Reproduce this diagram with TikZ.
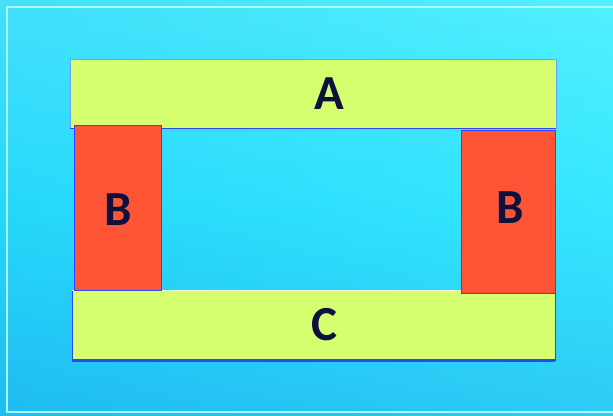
\documentclass[tikz,border=0pt]{standalone}
\usepackage{fontspec}
\setmainfont{Carlito}
\definecolor{skyTop}{RGB}{82,240,255}
\definecolor{skyMid}{RGB}{42,228,255}
\definecolor{skyBot}{RGB}{30,188,242}
\definecolor{barYellow}{RGB}{214,255,112}
\definecolor{barRed}{RGB}{255,84,54}
\definecolor{edgeBlue}{RGB}{45,70,255}
\definecolor{edgeSoft}{RGB}{110,160,255}
\definecolor{inkNavy}{RGB}{14,16,62}
\definecolor{frameLine}{RGB}{175,250,255}
\begin{document}
\begin{tikzpicture}[x=1pt,y=-1pt,
  panel/.style args={#1/#2}{draw=edgeBlue, line width=0.9pt, inner sep=0pt,
    minimum width=#1pt, minimum height=#2pt},
  yellowbar/.style={panel=#1, fill=barYellow},
  redbar/.style={panel=#1, fill=barRed},
  lab/.style={font=\bfseries\fontsize{49}{49}\selectfont, text=inkNavy, inner sep=0pt}]
  % backdrop
  \useasboundingbox (0,0) rectangle (613,415);
  \shade[top color=skyTop, bottom color=skyBot, middle color=skyMid] (0,0) rectangle (613,415);
  \shade[left color=skyBot, right color=skyTop, opacity=0.3] (0,0) rectangle (613,415);
  \draw[frameLine, line width=1.3pt] (613,7) -- (7,7) -- (7,412) -- (613,412);
  % bars
  \node[yellowbar=486/69, draw=edgeSoft] (A) at (313,93.5) {};
  \draw[edgeBlue, line width=1.4pt] (A.south west) -- (A.south east);
  \node[yellowbar=483/70] (C) at (313.5,325) {};
  \draw[edgeBlue, line width=3pt] (C.south west) -- (C.south east);
  \draw[white!70!barYellow, line width=1pt] ([yshift=-1pt]C.north west) -- ([yshift=-1pt]C.north east);
  \node[redbar=87/165] (BL) at (117.5,207.5) {};
  \node[redbar=94/163] (BR) at (508,211.5) {};
  % letters
  \node[lab] (tA) at (329,93.5) {A};
  \node[lab] (tC) at (324,325) {C};
  \node[lab] (tBL) at (118,210) {B};
  \node[lab] (tBR) at (510,208) {B};
\end{tikzpicture}
\end{document}
